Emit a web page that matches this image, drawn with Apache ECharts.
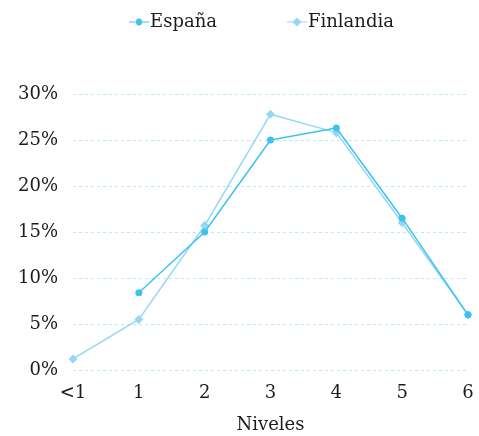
<!DOCTYPE html>
<html>
<head>
<meta charset="utf-8">
<script src="https://cdn.jsdelivr.net/npm/echarts@6/dist/echarts.min.js"></script>
<style>
  html, body { margin: 0; padding: 0; background: #fff; }
  #chart { width: 479px; height: 436px; }
</style>
</head>
<body>
<div id="chart"></div>
<script>
var chart = echarts.init(document.getElementById('chart'));

// niveles en el eje x
const niveles = ['<1', '1', '2', '3', '4', '5', '6'];
// porcentajes por nivel
const espana = [null, 8.4, 15.0, 25.0, 26.3, 16.5, 6.0];
const finlandia = [1.2, 5.5, 15.7, 27.8, 25.8, 16.0, 6.0];
const yTicks = [0, 5, 10, 15, 20, 25, 30];

const fontFam = '"DejaVu Serif", "Liberation Serif", serif';
const colEsp = '#3ec3ef';
const colFin = '#92d8f6';
const txt = '#1c1c1c';

var option = {
  animation: false,
  textStyle: { fontFamily: fontFam },
  legend: {
    top: 8,
    left: 124,
    itemGap: 70,
    itemWidth: 20,
    itemHeight: 10,
    itemStyle: { borderWidth: 0 },
    textStyle: { fontFamily: fontFam, fontSize: 18, color: txt, padding: [0, 0, 0, -4] },
    data: [
      { name: 'España', icon: 'path://M0,4.5 L7,4.5 A3,3 0 1 1 13,4.5 L20,4.5 L20,5.5 L13,5.5 A3,3 0 1 1 7,5.5 L0,5.5 Z' },
      { name: 'Finlandia', icon: 'path://M0,4.5 L6,4.5 L10,0.5 L14,4.5 L20,4.5 L20,5.5 L14,5.5 L10,9.5 L6,5.5 L0,5.5 Z' }
    ]
  },
  grid: { left: 73, right: 11, top: 94, bottom: 66, outerBoundsMode: 'none', containLabel: false },
  xAxis: {
    type: 'category',
    data: niveles,
    boundaryGap: false,
    name: 'Niveles',
    nameLocation: 'middle',
    nameGap: 46,
    nameTextStyle: { fontFamily: fontFam, fontSize: 18, color: txt },
    axisLine: { show: false },
    axisTick: { show: false },
    axisLabel: { fontFamily: fontFam, fontSize: 18, color: txt, margin: 14 }
  },
  yAxis: {
    type: 'value',
    min: yTicks[0],
    max: yTicks[yTicks.length - 1],
    interval: 5,
    axisLine: { show: false },
    axisTick: { show: false },
    axisLabel: { fontFamily: fontFam, fontSize: 18, color: txt, margin: 15, formatter: '{value}%' },
    splitLine: { lineStyle: { type: [3, 3], color: '#bde8fb', width: 1 } }
  },
  series: [
    {
      name: 'España',
      type: 'line',
      data: espana,
      color: colEsp,
      symbol: 'circle',
      symbolSize: 7,
      lineStyle: { width: 1.5, color: colEsp },
      itemStyle: { color: colEsp },
      z: 3
    },
    {
      name: 'Finlandia',
      type: 'line',
      data: finlandia,
      color: colFin,
      symbol: 'diamond',
      symbolSize: 9,
      lineStyle: { width: 1.5, color: colFin },
      itemStyle: { color: colFin },
      z: 2
    }
  ]
};

option && chart.setOption(option);
</script>
</body>
</html>
